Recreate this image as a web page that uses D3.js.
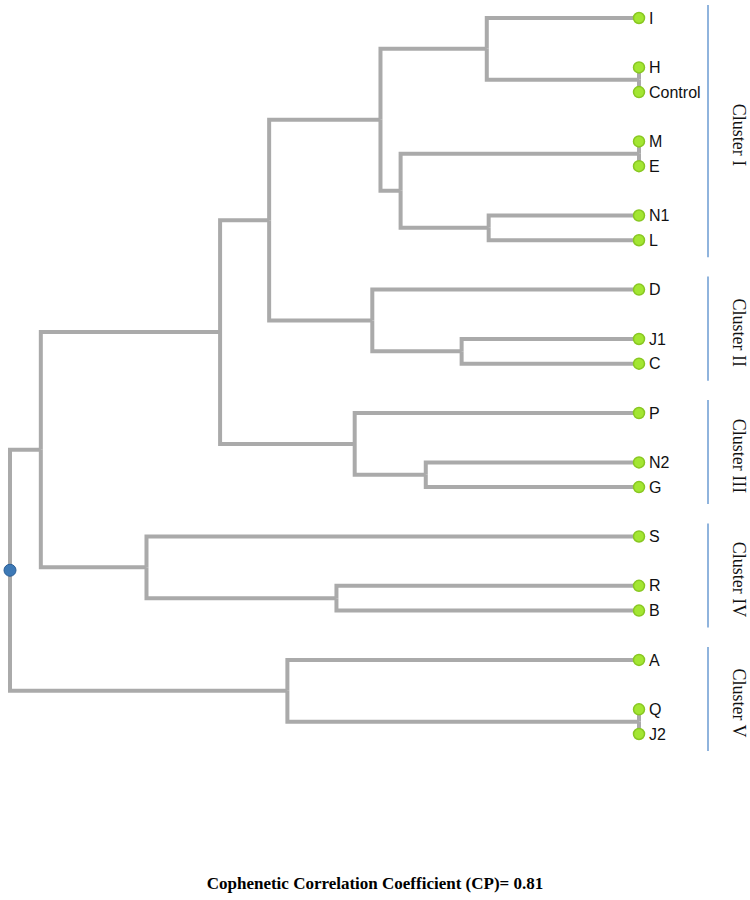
<!DOCTYPE html>
<html>
<head>
<meta charset="utf-8">
<script src="https://cdn.jsdelivr.net/npm/d3@7"></script>
<style>
  html, body { margin: 0; padding: 0; background: #fff; }
</style>
</head>
<body>
<svg id="chart" width="750" height="900"></svg>
<script>
// Leaf order (top to bottom)
const leaves = ["I","H","Control","M","E","N1","L","D","J1","C","P","N2","G","S","R","B","A","Q","J2"];
// Agglomerative merges: [id, upper child, lower child, merge height]
const merges = [
  ["HC","H","Control",0],
  ["IHC","I","HC",24.2],
  ["ME","M","E",0],
  ["N1L","N1","L",23.9],
  ["MEN1L","ME","N1L",37.9],
  ["C1","IHC","MEN1L",41.1],
  ["J1C","J1","C",28.2],
  ["C2","D","J1C",42.4],
  ["C12","C1","C2",58.8],
  ["N2G","N2","G",33.9],
  ["C3","P","N2G",45.2],
  ["C123","C12","C3",66.6],
  ["RB","R","B",48.1],
  ["C4","S","RB",78.3],
  ["C1234","C123","C4",95.1],
  ["QJ2","Q","J2",0],
  ["C5","A","QJ2",55.9],
  ["root","C1234","C5",100]
];
// Cluster brackets
const clusterNames = ["Cluster I","Cluster II","Cluster III","Cluster IV","Cluster V"];
const clusterFirst = ["I","D","P","S","A"];
const clusterLast  = ["L","C","G","B","J2"];
const caption = "Cophenetic Correlation Coefficient (CP)= 0.81";

const svg = d3.select("#chart");

// build tree
const nodes = {};
leaves.forEach(n => nodes[n] = {name: n, h: 0});
merges.forEach(([id, a, b, h]) => nodes[id] = {name: id, h: h, children: [nodes[a], nodes[b]]});
const root = d3.hierarchy(nodes["root"]);
d3.cluster().size([1, 1])(root);

const leafNodes = root.leaves();
const yScale = d3.scaleLinear()
  .domain(d3.extent(leafNodes, d => d.x))
  .range([18, 734]);
const xScale = d3.scaleLinear()
  .domain([100, 0])
  .range([10, 639]);

root.each(d => { d.px = xScale(d.data.h); d.py = yScale(d.x); });

// links
svg.append("g")
  .selectAll("path")
  .data(root.links())
  .join("path")
  .attr("d", l => `M${l.source.px},${l.source.py}V${l.target.py}H${l.target.px}`)
  .attr("fill", "none")
  .attr("stroke", "#aaaaaa")
  .attr("stroke-width", 4)
  .attr("stroke-linejoin", "miter");

// leaf circles
svg.append("g")
  .selectAll("circle")
  .data(leafNodes)
  .join("circle")
  .attr("cx", d => d.px)
  .attr("cy", d => d.py)
  .attr("r", 5.5)
  .attr("fill", "#a3e632")
  .attr("stroke", "#88c722")
  .attr("stroke-width", 1.5);

// root circle
svg.append("circle")
  .attr("cx", root.px)
  .attr("cy", root.py)
  .attr("r", 6)
  .attr("fill", "#3d79b6")
  .attr("stroke", "#2c5f96")
  .attr("stroke-width", 1);

// leaf labels
svg.append("g")
  .selectAll("text")
  .data(leafNodes)
  .join("text")
  .attr("x", d => d.px + 10)
  .attr("y", d => d.py)
  .attr("dy", "0.35em")
  .attr("font-family", "Liberation Sans, Arial, sans-serif")
  .attr("font-size", 16)
  .attr("fill", "#111")
  .text(d => d.data.name);

// cluster brackets
const leafY = {};
leafNodes.forEach(d => leafY[d.data.name] = d.py);
const cg = svg.append("g");
clusterNames.forEach((name, i) => {
  const y0 = leafY[clusterFirst[i]] - 13;
  const y1 = leafY[clusterLast[i]] + 17;
  cg.append("line")
    .attr("x1", 708).attr("x2", 708)
    .attr("y1", y0).attr("y2", y1)
    .attr("stroke", "#6b9bd2")
    .attr("stroke-width", 1.5);
  cg.append("text")
    .attr("transform", `translate(739,${(y0 + y1) / 2 + 4}) rotate(90)`)
    .attr("text-anchor", "middle")
    .attr("dy", "0.35em")
    .attr("font-family", "Liberation Serif, Times New Roman, serif")
    .attr("font-size", 18)
    .attr("fill", "#111")
    .text(name);
});

// caption
svg.append("text")
  .attr("x", 375)
  .attr("y", 889)
  .attr("text-anchor", "middle")
  .attr("font-family", "Liberation Serif, Times New Roman, serif")
  .attr("font-weight", "bold")
  .attr("font-size", 17)
  .attr("fill", "#000")
  .text(caption);
</script>
</body>
</html>
